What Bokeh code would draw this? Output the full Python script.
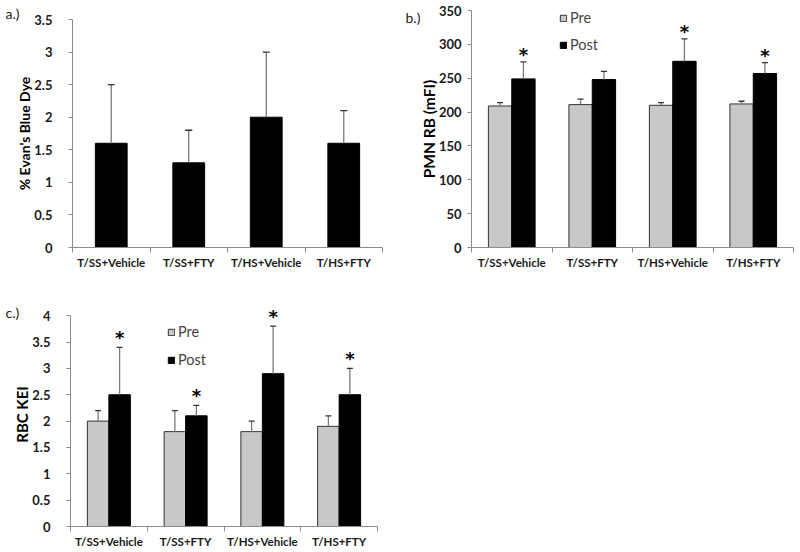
from bokeh.plotting import figure
from bokeh.models import (ColumnDataSource, FixedTicker, NumeralTickFormatter, Whisker,
                          TeeHead, Legend, LegendItem, Range1d, CustomJSTickFormatter)
from bokeh.layouts import column, row
from bokeh.embed import file_html
from bokeh.resources import INLINE
from bokeh.core.properties import value

# ---------------- data ----------------
groups = ["T/SS+Vehicle", "T/SS+FTY", "T/HS+Vehicle", "T/HS+FTY"]

evans_blue = [1.6, 1.3, 2.0, 1.6]
evans_blue_upper = [2.5, 1.8, 3.0, 2.1]

pmn_pre = [209, 211, 210, 212]
pmn_pre_upper = [214, 219, 214, 216]
pmn_post = [249, 248, 275, 257]
pmn_post_upper = [274, 260, 308, 273]
pmn_sig = [True, False, True, True]

rbc_pre = [2.0, 1.8, 1.8, 1.9]
rbc_pre_upper = [2.2, 2.2, 2.0, 2.1]
rbc_post = [2.5, 2.1, 2.9, 2.5]
rbc_post_upper = [3.4, 2.3, 3.8, 3.0]
rbc_sig = [True, True, True, True]

ticks_a = [0, 0.5, 1, 1.5, 2, 2.5, 3, 3.5]
ticks_b = [0, 50, 100, 150, 200, 250, 300, 350]
ticks_c = [0, 0.5, 1, 1.5, 2, 2.5, 3, 3.5, 4]

FONT = "Lato"
PRE_COLOR = "#c8c8c8"
POST_COLOR = "#000000"
AXIS_COLOR = "#8c8c8c"

centers = [i + 0.5 for i in range(len(groups))]


def make_fig(width, height, bl, br, bt, bb, yend, yticks, ylabel, fmt, tag, tag_standoff,
             tick_standoff, label_standoff, label_size):
    p = figure(width=width, height=height, output_backend="svg", toolbar_location=None,
               x_range=Range1d(0, len(groups)), y_range=Range1d(0, yend),
               min_border_left=bl, min_border_right=br, min_border_top=bt, min_border_bottom=bb)
    p.frame_align = False
    p.outline_line_color = None
    p.xgrid.visible = False
    p.ygrid.visible = False
    p.background_fill_color = "white"
    p.border_fill_color = "white"

    # panel tag ("a.)", "b.)", "c.)")
    p.title.text = tag
    p.title.align = "left"
    p.title.offset = -(bl - 5)
    p.title.standoff = tag_standoff
    p.title.vertical_align = "bottom"
    p.title.text_font = FONT
    p.title.text_font_style = "normal"
    p.title.text_font_size = "14px"
    p.title.text_color = "#222222"

    xa = p.xaxis[0]
    xa.ticker = FixedTicker(ticks=centers, minor_ticks=list(range(len(groups) + 1)))
    xa.formatter = CustomJSTickFormatter(args=dict(names=groups),
                                         code="return names[Math.floor(tick)];")
    xa.major_tick_line_color = None
    xa.major_tick_out = 0
    xa.major_tick_in = 0
    xa.minor_tick_out = 5
    xa.minor_tick_in = 0
    xa.minor_tick_line_color = AXIS_COLOR
    xa.axis_line_color = AXIS_COLOR
    xa.major_label_text_font = FONT
    xa.major_label_text_font_style = "bold"
    xa.major_label_text_font_size = "11.5px"
    xa.major_label_text_color = "#1a1a1a"
    xa.major_label_standoff = 3

    ya = p.yaxis[0]
    ya.ticker = FixedTicker(ticks=yticks, minor_ticks=[])
    ya.formatter = NumeralTickFormatter(format=fmt)
    ya.bounds = (yticks[0], yticks[-1])
    ya.axis_line_color = AXIS_COLOR
    ya.major_tick_line_color = AXIS_COLOR
    ya.major_tick_out = 4
    ya.major_tick_in = 0
    ya.minor_tick_line_color = None
    ya.major_label_text_font = FONT
    ya.major_label_text_font_style = "bold"
    ya.major_label_text_font_size = "13px"
    ya.major_label_text_color = "#1a1a1a"
    ya.major_label_standoff = tick_standoff
    ya.axis_label = ylabel
    ya.axis_label_text_font = FONT
    ya.axis_label_text_font_style = "bold"
    ya.axis_label_text_font_size = label_size
    ya.axis_label_text_color = "#000000"
    ya.axis_label_standoff = label_standoff
    return p


def add_whisker(p, xs, base, upper, head=7):
    src = ColumnDataSource(dict(x=xs, lower=base, upper=upper))
    w = Whisker(base="x", lower="lower", upper="upper", source=src, dimension="height",
                line_color="#7a7a7a", line_width=1.3,
                upper_head=TeeHead(size=head, line_color="#333333", line_width=1.3),
                lower_head=None, level="overlay")
    p.add_layout(w)


def add_stars(p, xs, upper, sig, offset):
    sx = [x for x, s in zip(xs, sig) if s]
    sy = [u for u, s in zip(upper, sig) if s]
    src = ColumnDataSource(dict(x=sx, y=sy, t=["*"] * len(sx)))
    p.text(x="x", y="y", text="t", source=src, text_align="center",
           text_baseline="alphabetic", y_offset=offset,
           text_font=value("DejaVu Sans"), text_font_style="bold", text_font_size="18px",
           text_color="#000000")


def make_legend(r_pre, r_post, loc, spacing):
    return Legend(items=[LegendItem(label="Pre", renderers=[r_pre]),
                         LegendItem(label="Post", renderers=[r_post])],
                  location=loc, margin=0, padding=0, spacing=spacing,
                  glyph_width=8, glyph_height=8, label_height=17, label_standoff=3,
                  label_text_font=FONT, label_text_font_size="14.5px",
                  background_fill_alpha=0, border_line_color=None)


# ---------------- panel a ----------------
pa = make_fig(400, 280, 72, 18, 19, 33, 3.5, ticks_a, "% Evan's Blue Dye", "0.[0]", "a.)", -4,
              16, -2, "14px")
src_a = ColumnDataSource(dict(x=centers, top=evans_blue))
pa.vbar(x="x", top="top", width=0.41, source=src_a, fill_color=POST_COLOR,
        line_color="#000000")
add_whisker(pa, centers, evans_blue, evans_blue_upper)

# ---------------- panel b ----------------
pb = make_fig(398, 280, 71, 5, 10, 33, 350, ticks_b, "PMN RB (mFI)", "0", "b.)", -31,
              6, -2, "15.5px")
wb, db = 0.29, 0.145
xb_pre = [c - db for c in centers]
xb_post = [c + db for c in centers]
src_b_pre = ColumnDataSource(dict(x=xb_pre, top=pmn_pre))
src_b_post = ColumnDataSource(dict(x=xb_post, top=pmn_post))
rb_pre = pb.vbar(x="x", top="top", width=wb, source=src_b_pre, fill_color=PRE_COLOR,
                 line_color="#333333", line_width=1)
rb_post = pb.vbar(x="x", top="top", width=wb, source=src_b_post, fill_color=POST_COLOR,
                  line_color="#000000", line_width=1)
add_whisker(pb, xb_pre, pmn_pre, pmn_pre_upper, head=6)
add_whisker(pb, xb_post, pmn_post, pmn_post_upper, head=6)
add_stars(pb, xb_post, pmn_post_upper, pmn_sig, -7)
pb.add_layout(make_legend(rb_pre, rb_post, (88, 194), 10))

# ---------------- panel c ----------------
# y range a little above the last tick so the top star is not cut; the axis line stops at 4
pc = make_fig(400, 270, 70, 23, 22, 24, 4.25, ticks_c, "RBC KEI", "0.[0]", "c.)", -37,
              16, -2, "15px")
wc, dc = 0.28, 0.14
xc_pre = [c - dc for c in centers]
xc_post = [c + dc for c in centers]
src_c_pre = ColumnDataSource(dict(x=xc_pre, top=rbc_pre))
src_c_post = ColumnDataSource(dict(x=xc_post, top=rbc_post))
rc_pre = pc.vbar(x="x", top="top", width=wc, source=src_c_pre, fill_color=PRE_COLOR,
                 line_color="#333333", line_width=1)
rc_post = pc.vbar(x="x", top="top", width=wc, source=src_c_post, fill_color=POST_COLOR,
                  line_color="#000000", line_width=1)
add_whisker(pc, xc_pre, rbc_pre, rbc_pre_upper, head=6)
add_whisker(pc, xc_post, rbc_post, rbc_post_upper, head=6)
add_stars(pc, xc_post, rbc_post_upper, rbc_sig, -10)
pc.add_layout(make_legend(rc_pre, rc_post, (97, 158), 11))

layout = column(row(pa, pb), pc)
open("out.html", "w").write(file_html(layout, INLINE))
